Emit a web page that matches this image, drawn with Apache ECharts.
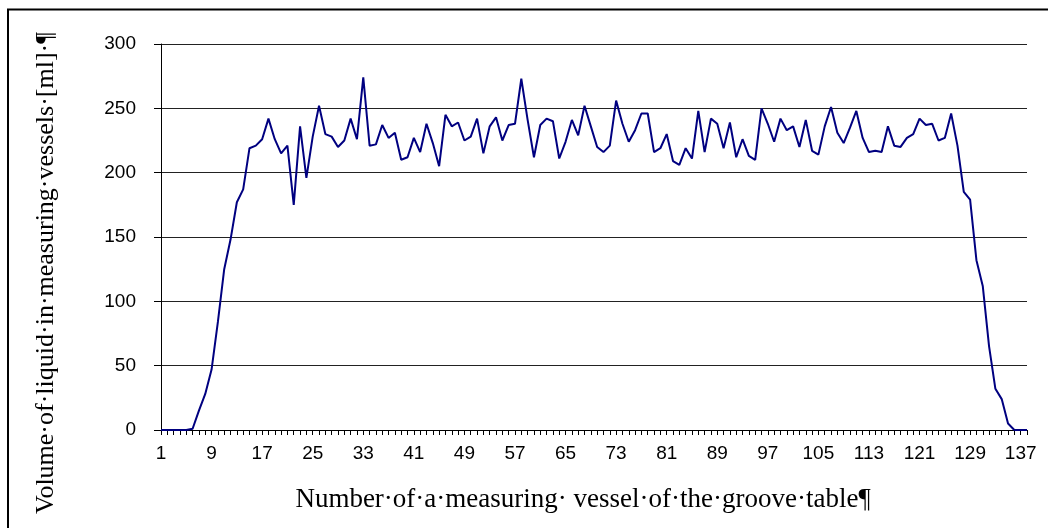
<!DOCTYPE html>
<html>
<head>
<meta charset="utf-8">
<script src="https://cdn.jsdelivr.net/npm/echarts@6/dist/echarts.min.js"></script>
<style>
	html, body { margin: 0; padding: 0; background: #fff; }
	#chart { width: 1048px; height: 528px; }
</style>
</head>
<body>
<div id="chart"></div>
<script>
// vessel numbers 1..138
var vessels = [];
for (let i = 1; i <= 138; i++) {
	vessels.push(String(i));
}

// volume, one per vessel
var volume = [
	0, 0, 0, 0, 0, 1, 15, 28, 47, 84,
	125, 148, 177, 187, 219, 221, 226, 242, 226, 215,
	221, 175, 236, 196, 228, 252, 230, 228, 220, 225,
	242, 226, 274, 221, 222, 237, 227, 231, 210, 212,
	227, 216, 238, 223, 205, 245, 236, 239, 225, 228,
	242, 215, 236, 243, 225, 237, 238, 273, 241, 212,
	237, 242, 240, 211, 224, 241, 229, 252, 236, 220,
	216, 221, 256, 238, 224, 233, 246, 246, 216, 219,
	230, 209, 206, 219, 211, 248, 216, 242, 238, 219,
	239, 212, 226, 213, 210, 250, 238, 224, 242, 233,
	236, 220, 241, 217, 214, 236, 251, 231, 223, 235,
	248, 227, 216, 217, 216, 236, 221, 220, 227, 230,
	242, 237, 238, 225, 227, 246, 221, 185, 179, 132,
	112, 65, 32, 24, 5, 0, 0, 0
];

var yTicks = [0, 50, 100, 150, 200, 250, 300];

var xTitle = 'Number·of·a·measuring· vessel·of·the·groove·table¶';
var yTitle = 'Volume·of·liquid·in·measuring·vessels·[ml]·¶';

let ec = echarts.init(document.getElementById('chart'));
let option = {
	animation: false,
	backgroundColor: '#fff',
	grid: {
		left: 161,
		right: 21,
		top: 44,
		bottom: 98
	},
	// outer frame of the picture
	graphic: [{
		type: 'rect',
		shape: { x: 8, y: 9.5, width: 1100, height: 600 },
		style: { fill: 'none', stroke: '#000', lineWidth: 2 },
		silent: true
	}],
	xAxis: {
		type: 'category',
		data: vessels,
		boundaryGap: false,
		name: xTitle,
		nameLocation: 'middle',
		nameGap: 56,
		nameTextStyle: {
			fontFamily: 'Liberation Serif',
			fontSize: 27,
			color: '#000',
			padding: [0, 22, 0, 0]
		},
		axisLine: { lineStyle: { color: '#000', width: 1 } },
		axisTick: {
			interval: 0,
			length: 5,
			lineStyle: { color: '#000' }
		},
		axisLabel: {
			interval: 7,
			margin: 14,
			fontFamily: 'Liberation Sans',
			fontSize: 19,
			color: '#000'
		},
		splitLine: { show: false }
	},
	yAxis: {
		type: 'value',
		min: yTicks[0],
		max: yTicks[yTicks.length - 1],
		interval: 50,
		name: yTitle,
		nameLocation: 'middle',
		nameGap: 102,
		nameRotate: 90,
		nameTextStyle: {
			fontFamily: 'Liberation Serif',
			fontSize: 26,
			color: '#000',
			padding: [0, 72, 0, 0]
		},
		axisLine: { show: true, lineStyle: { color: '#000', width: 1 } },
		axisTick: {
			show: true,
			length: 7,
			lineStyle: { color: '#000' }
		},
		axisLabel: {
			margin: 25,
			fontFamily: 'Liberation Sans',
			fontSize: 19,
			color: '#000'
		},
		splitLine: { lineStyle: { color: '#222', width: 1 } }
	},
	series: [{
		type: 'line',
		data: volume,
		symbol: 'none',
		lineStyle: { color: '#000080', width: 2 }
	}]
};
ec.setOption(option);
</script>
</body>
</html>
